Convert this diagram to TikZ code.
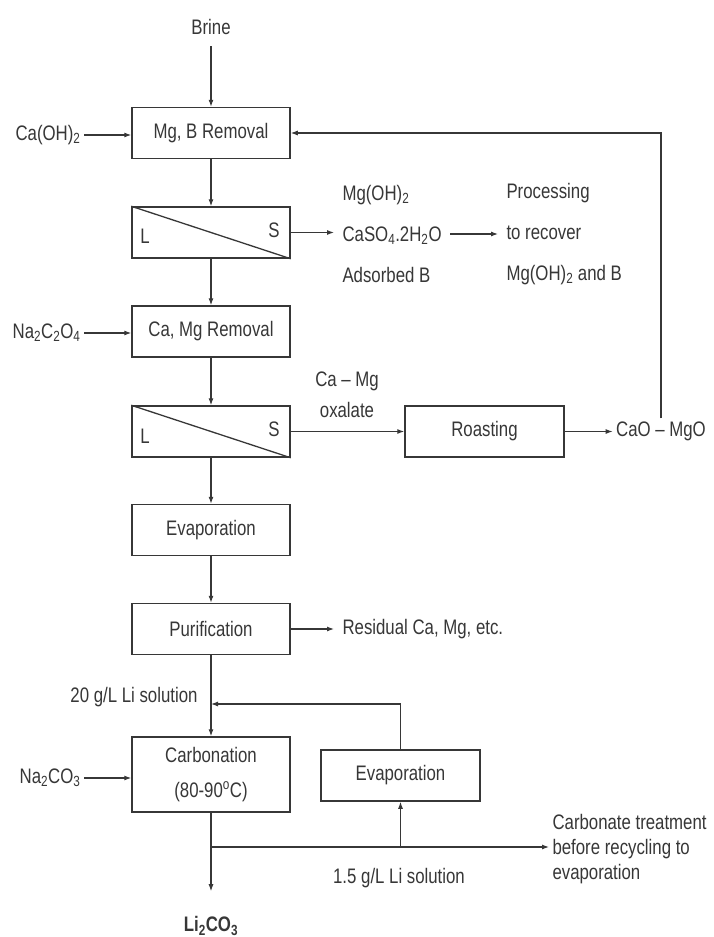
\documentclass[tikz,border=0pt]{standalone}
\usepackage{fontspec}
\setmainfont{Liberation Sans}[FakeStretch=0.8]
\usepackage{tikz}
\usetikzlibrary{arrows.meta}
\definecolor{ink}{RGB}{55,55,55}

\begin{document}
\begin{tikzpicture}[x=1pt,y=-1pt,
	>={Latex[length=7pt,width=5pt]},
	every node/.style={font=\fontsize{21}{25}\selectfont, text=ink},
	box/.style={draw=ink, line width=1.5pt, minimum width=158pt, minimum height=51pt, inner sep=0pt},
	flow/.style={draw=ink, line width=1.1pt, ->},
	line/.style={draw=ink, line width=1.1pt}]
				\fill[white] (0,0) rectangle (713,937);
				\useasboundingbox (0,0) rectangle (713,937);
				
				\node (brine) at (211,27) {Brine};
				\node[box] (rem1) at (211,133) {Mg, B Removal};
				\node[box] (sep1) at (211,232.5) {};
				\node[box] (rem2) at (211,331.5) {Ca, Mg Removal};
				\node[box] (sep2) at (211,431.5) {};
				\node[box] (evap1) at (211,530) {Evaporation};
				\node[box] (pur) at (211,629) {Purification};
				\node[box, minimum height=75pt, align=center, font=\fontsize{21}{35}\selectfont] (carb) at (211,774.5) {Carbonation\\(80-90\textsuperscript{o}C)};
				\node[box, minimum width=159pt] (evap2) at (400.5,775.5) {Evaporation};
				\node[box, minimum width=159pt] (roast) at (484.5,431.5) {Roasting};
				
				\node[anchor=east] (caoh) at (84,135) {Ca(OH)\textsubscript{2}};
				\node[anchor=east] (naox) at (84,333) {Na\textsubscript{2}C\textsubscript{2}O\textsubscript{4}};
				\node[anchor=east] (naco) at (84,778) {Na\textsubscript{2}CO\textsubscript{3}};
				
				\node (sep1l) at (145,236) {L};
				\node (sep1s) at (274,230) {S};
				\node (sep2l) at (145,436) {L};
				\node (sep2s) at (274,429) {S};
				
				\node[anchor=west, align=left, font=\fontsize{21}{41}\selectfont] (solids) at (339,234) {Mg(OH)\textsubscript{2}\\CaSO\textsubscript{4}.2H\textsubscript{2}O\\Adsorbed B};
				\node[anchor=west, align=left, font=\fontsize{21}{41}\selectfont] (proc) at (503,234) {Processing\\to recover\\Mg(OH)\textsubscript{2} and B};
				\node[align=center, font=\fontsize{21}{31}\selectfont] (oxal) at (347,395) {Ca – Mg\\oxalate};
				\node (cao) at (661,431.5) {CaO – MgO};
				\node[anchor=west] (resid) at (339,629) {Residual Ca, Mg, etc.};
				\node (conc) at (134,697) {20 g/L Li solution};
				\node[anchor=west, align=left, font=\fontsize{21}{25}\selectfont] (treat) at (549,849) {Carbonate treatment\\before recycling to\\evaporation};
				\node (lean) at (399,878) {1.5 g/L Li solution};
				\node[font=\bfseries\fontsize{21}{25}\selectfont] (li) at (211,926) {Li\textsubscript{2}CO\textsubscript{3}};
				
				\coordinate (mix) at (211,704);
				\coordinate (split) at (211,847);
				\coordinate (tap) at (400.5,847);
				
				% separators
				\draw[line, line width=1.3pt] (sep1.north west) -- (sep1.south east);
				\draw[line, line width=1.3pt] (sep2.north west) -- (sep2.south east);
				
				% main line
				\draw[flow, shorten <=8pt] (brine.south) -- (rem1.north);
				\draw[flow] (rem1.south) -- (sep1.north);
				\draw[flow] (sep1.south) -- (rem2.north);
				\draw[flow] (rem2.south) -- (sep2.north);
				\draw[flow] (sep2.south) -- (evap1.north);
				\draw[flow] (evap1.south) -- (pur.north);
				\draw[flow] (pur.south) -- (carb.north);
				\draw[flow, shorten >=22pt] (carb.south) -- (li.north);
				
				% reagents
				\draw[flow] (caoh.east) -- (caoh.east -| rem1.west);
				\draw[flow] (naox.east) -- (naox.east -| rem2.west);
				\draw[flow] (naco.east) -- (naco.east -| carb.west);
				
				% side streams
				\draw[flow, shorten >=5pt] (sep1.east) -- (sep1.east -| solids.west);
				\draw[flow, shorten <=5pt, shorten >=5pt] (solids.east) -- (proc.west);
				\draw[flow] (sep2.east) -- (roast.west);
				\draw[flow] (roast.east) -- (cao.west);
				\draw[flow] (cao.north) |- (rem1.east);
				\draw[flow, shorten >=5pt] (pur.east) -- (resid.west);
				
				% recycle
				\draw[flow] (evap2.north) |- (mix);
				\draw[flow] (split) -- (split -| treat.west);
				\draw[flow] (tap) -- (evap2.south);
			\end{tikzpicture}
\end{document}
